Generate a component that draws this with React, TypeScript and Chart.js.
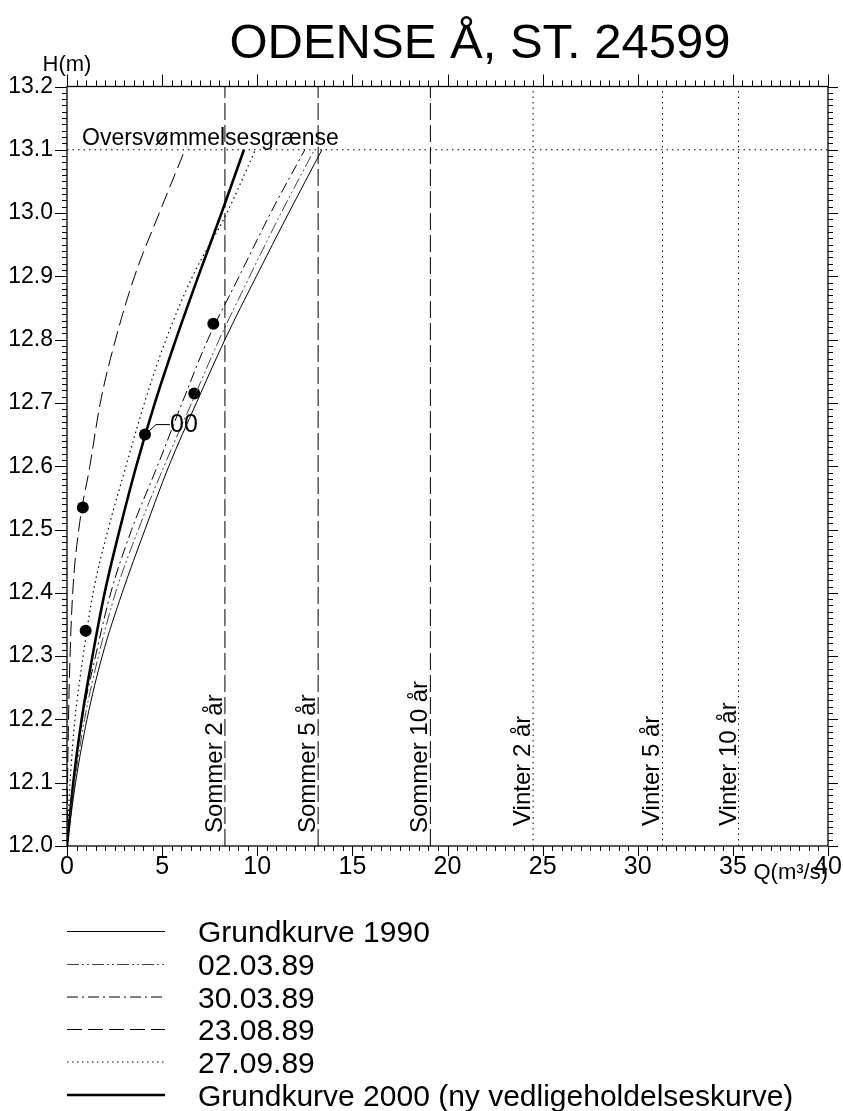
import React, { useEffect, useRef } from "react";
import { Chart, registerables } from "chart.js";

Chart.register(...registerables);

// Water level steps (m) at which each rating curve is tabulated
const H_LEVELS = [12.0, 12.1, 12.2, 12.3, 12.4, 12.5, 12.6, 12.7, 12.8, 12.9, 13.0, 13.1];

// Discharge Q (m³/s) of each rating curve at the levels above
const Q_GRUND_1990 = [0, 0.45, 1.05, 1.85, 2.9, 4.1, 5.35, 6.8, 8.3, 9.95, 11.65, 13.4];
const Q_02_03_89 = [0, 0.4, 0.92, 1.65, 2.55, 3.75, 5.1, 6.55, 8.0, 9.6, 11.25, 13.0];
const Q_30_03_89 = [0, 0.35, 0.8, 1.5, 2.3, 3.4, 4.75, 6.05, 7.4, 9.05, 10.7, 12.5];
const Q_23_08_89 = [0, 0.03, 0.08, 0.16, 0.3, 0.62, 1.2, 1.75, 2.55, 3.55, 4.85, 6.2];
const Q_27_09_89 = [0, 0.16, 0.42, 0.85, 1.37, 2.16, 3.1, 4.07, 5.2, 6.6, 8.4, 9.9];
const Q_GRUND_2000 = [0, 0.33, 0.77, 1.34, 1.98, 2.77, 3.64, 4.62, 5.72, 6.9, 8.12, 9.3];

const SERIES_NAMES = [
  "Grundkurve 1990",
  "02.03.89",
  "30.03.89",
  "23.08.89",
  "27.09.89",
  "Grundkurve 2000 (ny vedligeholdelseskurve)",
];
const SERIES_Q = [Q_GRUND_1990, Q_02_03_89, Q_30_03_89, Q_23_08_89, Q_27_09_89, Q_GRUND_2000];

// Measured discharge points
const POINT_Q = [0.83, 0.98, 4.1, 6.69, 7.69];
const POINT_H = [12.535, 12.34, 12.65, 12.715, 12.825];
const POINT_LABEL_INDEX = 2;
const POINT_LABEL = "00";

// Design flows
const REF_Q = [8.3, 13.2, 19.1, 24.5, 31.3, 35.3];
const REF_LABELS = ["Sommer 2 år", "Sommer 5 år", "Sommer 10 år", "Vinter 2 år", "Vinter 5 år", "Vinter 10 år"];
const REF_SUMMER = [true, true, true, false, false, false];

// Flood limit
const FLOOD_H = 13.1;
const FLOOD_LABEL = "Oversvømmelsesgrænse";

// Axes
const Q_MIN = 0;
const Q_MAX = 40;
const Q_STEP = 5;
const H_MIN = 12.0;
const H_MAX = 13.2;
const H_STEP = 0.1;

const TITLE = "ODENSE Å, ST. 24599";
const Y_TITLE = "H(m)";
const X_TITLE = "Q(m³/s)";

const SANS = '"Liberation Sans", Arial, Helvetica, sans-serif';

// Line look for each series (same order as SERIES_NAMES)
const SERIES_STYLE = [
  { width: 1, dash: [] as number[], color: "#000" },
  { width: 1, dash: [12, 3, 2, 3, 2, 3], color: "#444" },
  { width: 1, dash: [11, 4, 2, 4], color: "#000" },
  { width: 1, dash: [15, 6], color: "#000" },
  { width: 1.2, dash: [1.5, 3.5], color: "#000" },
  { width: 2.6, dash: [] as number[], color: "#000" },
];

const decorPlugin = {
  id: "decor",
  beforeDraw(chart: any) {
    const { ctx, width, height } = chart;
    ctx.save();
    ctx.fillStyle = "#fff";
    ctx.fillRect(0, 0, width, height);
    ctx.restore();
  },
  afterDatasetsDraw(chart: any) {
    const { ctx, chartArea: a, scales } = chart;
    const x = scales.x;
    const y = scales.y;
    ctx.save();
    ctx.fillStyle = "#000";
    ctx.strokeStyle = "#000";

    // Frame
    ctx.lineWidth = 1.3;
    ctx.setLineDash([]);
    ctx.strokeRect(a.left, a.top, a.right - a.left, a.bottom - a.top);

    // Q ticks on bottom and top
    ctx.lineWidth = 1;
    ctx.beginPath();
    for (let i = 0; i <= (Q_MAX - Q_MIN) * 2; i++) {
      const q = Q_MIN + i * 0.5;
      const px = Math.round(x.getPixelForValue(q)) + 0.5;
      const major = i % 10 === 0;
      const lb = major ? 10 : 5;
      const lt = major ? 12 : 6;
      ctx.moveTo(px, a.bottom);
      ctx.lineTo(px, a.bottom + lb);
      ctx.moveTo(px, a.top);
      ctx.lineTo(px, a.top - lt);
    }
    // H ticks on left and right
    for (let i = 0; i <= Math.round((H_MAX - H_MIN) * 100); i++) {
      const h = H_MIN + i * 0.01;
      const py = Math.round(y.getPixelForValue(h)) + 0.5;
      const major = i % 10 === 0;
      const l = major ? 12 : 5;
      ctx.moveTo(a.left, py);
      ctx.lineTo(a.left - l, py);
      ctx.moveTo(a.right, py);
      ctx.lineTo(a.right + (major ? 10 : 5), py);
    }
    ctx.stroke();

    // Design flow labels, rotated along the lines
    ctx.font = `24px ${SANS}`;
    ctx.textAlign = "left";
    ctx.textBaseline = "alphabetic";
    REF_Q.forEach((q, i) => {
      const px = x.getPixelForValue(q);
      const py = a.bottom - (REF_SUMMER[i] ? 13 : 20);
      ctx.save();
      ctx.translate(px - 3, py);
      ctx.rotate(-Math.PI / 2);
      ctx.fillText(REF_LABELS[i], 0, 0);
      ctx.restore();
    });

    // Flood limit label
    ctx.font = `23px ${SANS}`;
    ctx.fillText(FLOOD_LABEL, a.left + 15, y.getPixelForValue(FLOOD_H) - 5);

    // Leader and label for the newest measurement
    const lx = x.getPixelForValue(POINT_Q[POINT_LABEL_INDEX]);
    const ly = y.getPixelForValue(POINT_H[POINT_LABEL_INDEX]);
    ctx.lineWidth = 1;
    ctx.beginPath();
    ctx.moveTo(lx, ly);
    ctx.lineTo(lx + 11, ly - 10);
    ctx.lineTo(lx + 25, ly - 10);
    ctx.stroke();
    ctx.font = `25px ${SANS}`;
    ctx.textBaseline = "middle";
    ctx.fillText(POINT_LABEL, lx + 25, ly - 9);

    // Title and axis names
    ctx.textBaseline = "alphabetic";
    ctx.textAlign = "center";
    ctx.font = `49px ${SANS}`;
    ctx.fillText(TITLE, 480, 58);
    ctx.font = `22px ${SANS}`;
    ctx.fillText(Y_TITLE, a.left, 71);
    ctx.textAlign = "right";
    ctx.fillText(X_TITLE, a.right, 879);

    // Legend
    const rowY = [931.5, 964.5, 997, 1029.5, 1062, 1095];
    ctx.textAlign = "left";
    SERIES_NAMES.forEach((name, i) => {
      const st = SERIES_STYLE[i];
      ctx.strokeStyle = st.color;
      ctx.lineWidth = st.width;
      ctx.setLineDash(st.dash);
      ctx.beginPath();
      ctx.moveTo(67, rowY[i]);
      ctx.lineTo(165, rowY[i]);
      ctx.stroke();
      ctx.setLineDash([]);
      ctx.fillStyle = "#000";
      ctx.font = `30px ${SANS}`;
      ctx.fillText(name, 198, rowY[i] + 10.5);
    });

    ctx.restore();
  },
};

export default function App() {
  const ref = useRef<HTMLCanvasElement | null>(null);

  useEffect(() => {
    if (!ref.current) return;

    const curveSets = SERIES_Q.map((qs, i) => ({
      label: SERIES_NAMES[i],
      data: H_LEVELS.map((h, k) => ({ x: qs[k], y: h })),
      showLine: true,
      borderColor: SERIES_STYLE[i].color,
      borderWidth: SERIES_STYLE[i].width,
      borderDash: SERIES_STYLE[i].dash,
      pointRadius: 0,
      cubicInterpolationMode: "monotone",
      fill: false,
    }));

    const refSets = REF_Q.map((q, i) => ({
      label: REF_LABELS[i],
      data: [
        { x: q, y: H_MIN },
        { x: q, y: H_MAX },
      ],
      showLine: true,
      borderColor: "#000",
      borderWidth: 1,
      borderDash: REF_SUMMER[i] ? [17, 5] : [1.5, 4],
      pointRadius: 0,
      fill: false,
    }));

    const floodSet = {
      label: FLOOD_LABEL,
      data: [
        { x: Q_MIN, y: FLOOD_H },
        { x: Q_MAX, y: FLOOD_H },
      ],
      showLine: true,
      borderColor: "#000",
      borderWidth: 1,
      borderDash: [1.5, 4],
      pointRadius: 0,
      fill: false,
    };

    const pointSet = {
      label: "Målinger",
      data: POINT_Q.map((q, i) => ({ x: q, y: POINT_H[i] })),
      showLine: false,
      pointRadius: 6,
      pointBackgroundColor: "#000",
      pointBorderColor: "#000",
      borderWidth: 0,
    };

    const chart = new Chart(ref.current, {
      type: "scatter",
      data: { datasets: [...refSets, floodSet, ...curveSets, pointSet] as any },
      options: {
        responsive: false,
        animation: false,
        devicePixelRatio: 1,
        layout: { padding: { left: 0, right: 15, top: 86.5, bottom: 0 } },
        plugins: {
          legend: { display: false },
          tooltip: { enabled: false },
          title: { display: false },
        },
        scales: {
          x: {
            type: "linear",
            min: Q_MIN,
            max: Q_MAX,
            grid: { display: false, drawTicks: false },
            border: { display: false },
            ticks: {
              stepSize: Q_STEP,
              color: "#000",
              padding: 6,
              maxRotation: 0,
              font: { family: SANS, size: 25 },
            },
            afterFit: (s: any) => {
              s.height = 265;
              s.paddingLeft = 0;
              s.paddingRight = 0;
            },
          },
          y: {
            type: "linear",
            min: H_MIN,
            max: H_MAX,
            grid: { display: false, drawTicks: false },
            border: { display: false },
            ticks: {
              stepSize: H_STEP,
              color: "#000",
              padding: 14,
              font: { family: SANS, size: 23 },
              callback: (v: any) => Number(v).toFixed(1),
            },
            afterFit: (s: any) => {
              s.width = 67;
              s.paddingTop = 0;
              s.paddingBottom = 0;
            },
          },
        },
      },
      plugins: [decorPlugin],
    });

    return () => chart.destroy();
  }, []);

  return (
    <div style={{ position: "absolute", left: 0, top: 0, width: 843, height: 1111, background: "#fff" }}>
      <canvas ref={ref} width={843} height={1111} style={{ display: "block", width: 843, height: 1111 }} />
    </div>
  );
}
